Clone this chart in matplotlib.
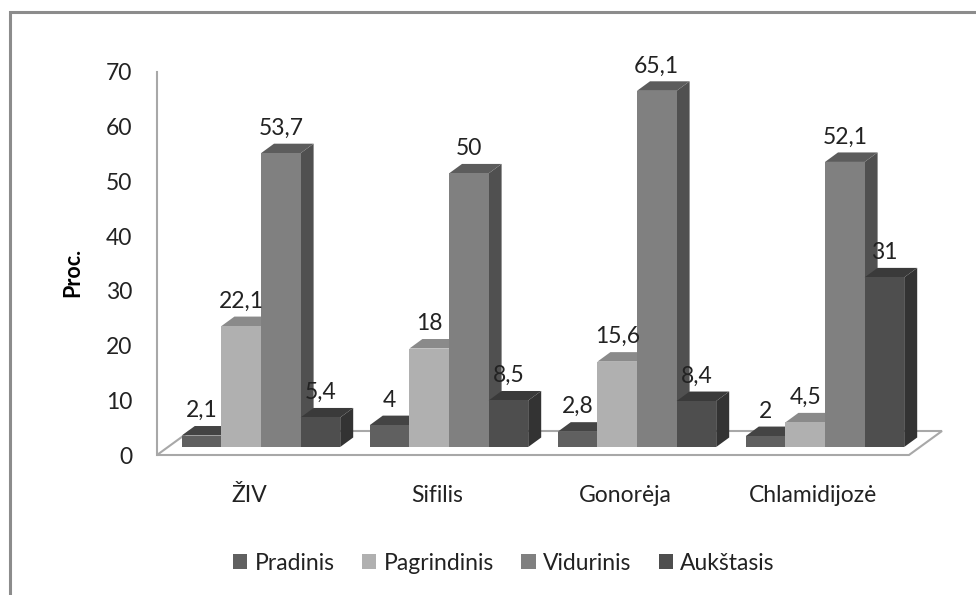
"""Grey pseudo-3D clustered columns: education level by infection."""
import matplotlib

matplotlib.use("Agg")
import matplotlib.pyplot as plt
import numpy as np
from matplotlib.patches import Polygon, Rectangle

categories = ["ŽIV", "Sifilis", "Gonorėja", "Chlamidijozė"]
series_names = ["Pradinis", "Pagrindinis", "Vidurinis", "Aukštasis"]
pradinis = [2.1, 4, 2.8, 2]
pagrindinis = [22.1, 18, 15.6, 4.5]
vidurinis = [53.7, 50, 65.1, 52.1]
aukstasis = [5.4, 8.5, 8.4, 31]
yticks = [0, 10, 20, 30, 40, 50, 60, 70]

W, H = 976, 595
# front, top, side shade per series
SHADES = [("#606060", "#444444", "#3c3c3c"),
          ("#b0b0b0", "#8a8a8a", "#707070"),
          ("#808080", "#5c5c5c", "#505050"),
          ("#4e4e4e", "#3a3a3a", "#333333")]
TEXT = "#222222"
LINE = "#a8a8a8"

plt.rcParams["font.family"] = ["Lato", "DejaVu Sans"]


def px_box(left, top, right, bottom):
    return [left / W, 1 - bottom / H, (right - left) / W, (bottom - top) / H]


fig = plt.figure(figsize=(W / 100, H / 100), dpi=100, facecolor="white")
fig.add_artist(Rectangle((9.5 / W, -0.02), (W + 20) / W, 1 - 11.5 / H + 0.02,
                         transform=fig.transFigure, fill=False,
                         edgecolor="#8c8c8c", linewidth=2.2))

# axis line + floor live on one axes, columns sit slightly higher on the floor
PITCH = 188.0
xlim = ((157 - 261) / PITCH, (909 - 261) / PITCH)
ax_floor = fig.add_axes(px_box(157, 72, 909, 455), facecolor="none")
ax_bars = fig.add_axes(px_box(157, 64, 909, 447), facecolor="none")
for ax in (ax_floor, ax_bars):
    ax.set_xlim(*xlim)
    ax.set_ylim(0, 70)
    for name, spine in ax.spines.items():
        spine.set_visible(False)
ax_bars.axis("off")

unit_y = (455 - 72) / 70.0
ax_floor.add_patch(Polygon([(xlim[0], 0), (xlim[1], 0),
                            (xlim[1] + 33 / PITCH, 24 / unit_y),
                            (xlim[0] + 33 / PITCH, 24 / unit_y)],
                           closed=True, facecolor="white", edgecolor=LINE,
                           linewidth=1.5, clip_on=False))
ax_floor.spines["left"].set_visible(True)
ax_floor.spines["left"].set_color(LINE)
ax_floor.spines["left"].set_linewidth(1.5)
ax_floor.set_yticks(yticks)
ax_floor.tick_params(axis="y", length=0, pad=18, labelsize=16.5, labelcolor=TEXT)
ax_floor.set_xticks([])
ax_floor.set_ylabel("")
fig.text(73 / W, 1 - 272 / H, "Proc.", rotation=90, ha="center", va="center",
         fontsize=15.5, fontweight="bold", color="black")

# columns, painted left to right so nearer faces cover the side walls
values = np.array([pradinis, pagrindinis, vidurinis, aukstasis])
bar_w = 39.6 / PITCH
dx, dy = 13 / PITCH, 9.5 / unit_y
z = 3
for i in range(len(categories)):
    for j in range(len(series_names)):
        v = values[j, i]
        x = i + (j - 1.5) * bar_w
        front, top, side = SHADES[j]
        l, r = x - bar_w / 2, x + bar_w / 2
        ax_bars.add_patch(Polygon([(r, 0), (r + dx, dy), (r + dx, v + dy), (r, v)],
                                  closed=True, facecolor=side, edgecolor="none",
                                  zorder=z, clip_on=False))
        ax_bars.add_patch(Polygon([(l, v), (r, v), (r + dx, v + dy), (l + dx, v + dy)],
                                  closed=True, facecolor=top, edgecolor="none",
                                  zorder=z, clip_on=False))
        ax_bars.bar(x, v, bar_w, color=front, zorder=z + 1, clip_on=False)
        ax_bars.text(x, v + dy + 0.9, f"{v:g}".replace(".", ","), ha="center",
                     va="bottom", fontsize=16.5, color=TEXT, zorder=100, clip_on=False)
        z += 2

for i, name in enumerate(categories):
    ax_floor.annotate(name, (i, 0), xytext=(-12 * 0.72, -41 * 0.72),
                      textcoords="offset points", ha="center", va="center",
                      fontsize=16.5, color=TEXT, annotation_clip=False)

handles = [Rectangle((0, 0), 1, 1, facecolor=SHADES[j][0]) for j in range(4)]
fig.legend(handles, series_names, loc="center", bbox_to_anchor=(504 / W, 1 - 563 / H),
           ncols=4, frameon=False, fontsize=16.5, labelcolor=TEXT, handlelength=0.62,
           handleheight=0.62, handletextpad=0.32, columnspacing=1.2)

fig.savefig("out.png", dpi=100, facecolor="white")
